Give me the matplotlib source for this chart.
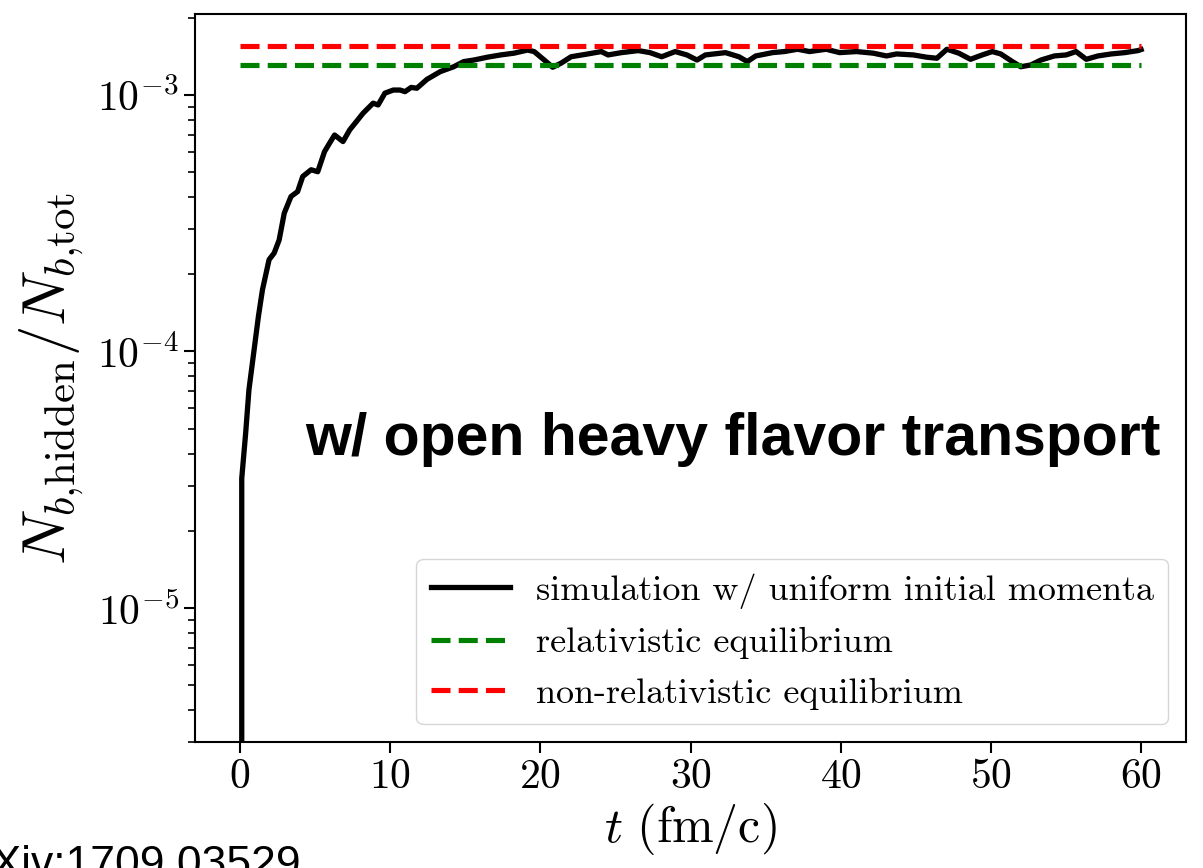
import numpy as np
import matplotlib
matplotlib.use('Agg')
import matplotlib.pyplot as plt

plt.rcParams['font.family'] = 'serif'
plt.rcParams['font.serif'] = ['cmr10']
plt.rcParams['mathtext.fontset'] = 'cm'
plt.rcParams['axes.formatter.use_mathtext'] = True

# simulation
t_sim = [0.0, 0.12, 0.38, 0.6, 1.23, 1.39, 1.50, 1.94, 2.28, 2.61,
         2.95, 3.40, 3.84, 4.18, 4.74, 5.18, 5.63, 5.97, 6.30, 6.86,
         7.31, 7.75, 8.20, 8.87, 9.20, 9.65, 10.21, 10.66, 10.99, 11.40,
         11.78, 12.45, 13.34, 14.23, 14.90, 15.57, 16.47, 17.36, 18.25, 19.15,
         19.59, 20.26, 20.82, 21.38, 22.05, 23.17, 24.06, 24.51, 25.40, 26.52,
         27.30, 28.08, 28.98, 29.76, 30.43, 30.99, 32.33, 33.22, 33.78, 34.34,
         35.46, 36.24, 37.13, 37.92, 39.03, 39.93, 41.04, 42.16, 43.05, 43.72,
         44.84, 45.73, 46.40, 47.07, 47.86, 48.64, 49.42, 50.09, 50.65, 51.43,
         51.99, 52.66, 53.33, 54.22, 55.01, 55.67, 56.35, 57.12, 58.02, 58.91,
         59.80, 60.0]
n_sim = [0.0, 3.2e-5, 4.8e-5, 7.1e-5, 1.37e-4, 1.58e-4, 1.74e-4, 2.28e-4, 2.42e-4, 2.72e-4,
         3.46e-4, 4.02e-4, 4.20e-4, 4.81e-4, 5.11e-4, 5.02e-4, 6.01e-4, 6.49e-4, 6.98e-4, 6.58e-4,
         7.31e-4, 7.87e-4, 8.49e-4, 9.29e-4, 9.14e-4, 1.016e-3, 1.045e-3, 1.045e-3, 1.030e-3, 1.070e-3,
         1.062e-3, 1.150e-3, 1.233e-3, 1.288e-3, 1.349e-3, 1.368e-3, 1.403e-3, 1.432e-3, 1.455e-3, 1.496e-3,
         1.476e-3, 1.368e-3, 1.282e-3, 1.330e-3, 1.409e-3, 1.445e-3, 1.476e-3, 1.432e-3, 1.462e-3, 1.489e-3,
         1.462e-3, 1.409e-3, 1.476e-3, 1.432e-3, 1.368e-3, 1.432e-3, 1.462e-3, 1.409e-3, 1.349e-3, 1.419e-3,
         1.462e-3, 1.476e-3, 1.507e-3, 1.476e-3, 1.507e-3, 1.462e-3, 1.476e-3, 1.455e-3, 1.419e-3, 1.445e-3,
         1.432e-3, 1.403e-3, 1.390e-3, 1.507e-3, 1.455e-3, 1.377e-3, 1.432e-3, 1.476e-3, 1.445e-3, 1.349e-3,
         1.288e-3, 1.309e-3, 1.368e-3, 1.419e-3, 1.432e-3, 1.476e-3, 1.377e-3, 1.419e-3, 1.445e-3, 1.462e-3,
         1.489e-3, 1.503e-3]

# equilibrium values
t_eq = [0.0, 60.0]
rel_eq = 1.31e-3
nonrel_eq = 1.55e-3

fig = plt.figure(figsize=(12.03, 8.68), dpi=100)
ax = fig.add_axes([0.162, 0.145, 0.824, 0.839])
ax.set_yscale('log', nonpositive='clip')

ax.plot(t_sim, n_sim, color='black', lw=3.8, label='simulation w/ uniform initial momenta')
ax.plot(t_eq, [rel_eq, rel_eq], '--', color='green', lw=3.7, label='relativistic equilibrium')
ax.plot(t_eq, [nonrel_eq, nonrel_eq], '--', color='red', lw=3.7, label='non-relativistic equilibrium')

ax.set_xlim(-3, 63)
ax.set_ylim(3.0e-6, 2.07e-3)
ax.set_xticks([0, 10, 20, 30, 40, 50, 60])

ax.set_xlabel(r'$t\ (\mathrm{fm/c})$', fontsize=36)
ax.set_ylabel(r'$N_{b{,}\mathrm{hidden}}/N_{b{,}\mathrm{tot}}$', fontsize=44, labelpad=8)
ax.tick_params(which='major', labelsize=30, length=8, width=1.5)
ax.tick_params(which='minor', length=5, width=1.2)
for s in ax.spines.values():
    s.set_linewidth(1.5)

ax.legend(loc='lower right', fontsize=26, handlelength=2.2, handletextpad=0.7)
ax.text(0.974, 0.415, 'w/ open heavy flavor transport', transform=ax.transAxes,
        ha='right', va='center', fontsize=42.5, fontweight='bold', family='Liberation Sans')

fig.text(-0.040, -0.010, 'arXiv:1709.03529', fontsize=32, family='Liberation Sans', va='baseline')

fig.savefig('out.png', dpi=100)
